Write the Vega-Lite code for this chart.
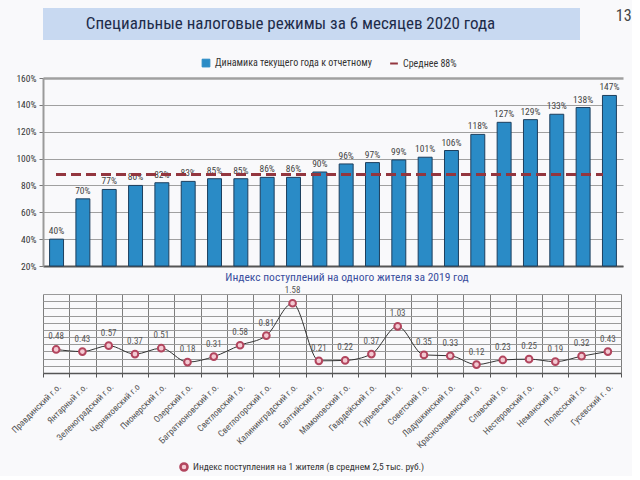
{
  "$schema": "https://vega.github.io/schema/vega-lite/v6.json",
  "background": "#f9f9fb",
  "padding": {"left": 10, "top": 8, "right": 0, "bottom": 0},
  "config": {
    "font": "Liberation Sans Narrow, Roboto Condensed, DejaVu Sans Condensed, sans-serif",
    "view": {"stroke": null}
  },
  "datasets": {
    "d": [
      {"m": "Правдинский г.о.", "dyn": 0.40, "idx": 0.48},
      {"m": "Янтарный г.о.", "dyn": 0.70, "idx": 0.43},
      {"m": "Зеленоградский г.о.", "dyn": 0.77, "idx": 0.57},
      {"m": "Черняховский г.о", "dyn": 0.80, "idx": 0.37},
      {"m": "Пионерский г.о.", "dyn": 0.82, "idx": 0.51},
      {"m": "Озерский г.о.", "dyn": 0.83, "idx": 0.18},
      {"m": "Багратионовский г.о.", "dyn": 0.85, "idx": 0.31},
      {"m": "Светловский г.о.", "dyn": 0.85, "idx": 0.58},
      {"m": "Светлогорский г.о.", "dyn": 0.86, "idx": 0.81},
      {"m": "Калининградский г.о.", "dyn": 0.86, "idx": 1.58},
      {"m": "Балтийский г.о.", "dyn": 0.90, "idx": 0.21},
      {"m": "Мамоновский г.о.", "dyn": 0.96, "idx": 0.22},
      {"m": "Гвардейский г.о.", "dyn": 0.97, "idx": 0.37},
      {"m": "Гурьевский г.о.", "dyn": 0.99, "idx": 1.03},
      {"m": "Советский г.о.", "dyn": 1.01, "idx": 0.35},
      {"m": "Ладушкинский г.о.", "dyn": 1.06, "idx": 0.33},
      {"m": "Краснознаменский г.о.", "dyn": 1.18, "idx": 0.12},
      {"m": "Славский г.о.", "dyn": 1.27, "idx": 0.23},
      {"m": "Нестеровский г.о.", "dyn": 1.29, "idx": 0.25},
      {"m": "Неманский г.о.", "dyn": 1.33, "idx": 0.19},
      {"m": "Полесский г.о.", "dyn": 1.38, "idx": 0.32},
      {"m": "Гусевский г. о.", "dyn": 1.47, "idx": 0.43}
    ]
  },
  "spacing": 18,
  "resolve": {"scale": {"color": "independent", "fill": "independent"}, "legend": {"color": "independent", "fill": "independent"}},
  "vconcat": [
    {
      "width": 537,
      "height": 32,
      "view": {"fill": "#c8d9f1", "stroke": null},
      "data": {"values": [{"t": "Специальные налоговые режимы за 6 месяцев 2020 года"}]},
      "mark": {"type": "text", "fontSize": 17, "dx": -21, "color": "#1e2c4a", "font": "Roboto Condensed, Liberation Sans Narrow, sans-serif"},
      "encoding": {"text": {"field": "t"}},
      "title": {"text": "13", "orient": "right", "angle": 0, "anchor": "start", "align": "left", "baseline": "top", "offset": 20, "frame": "group", "fontSize": 16, "fontWeight": "normal", "color": "#444", "font": "Roboto Condensed, Liberation Sans Narrow, sans-serif"}
    },
    {
      "spacing": 0,
      "resolve": {"scale": {"x": "independent", "y": "independent", "color": "independent", "fill": "independent"}, "legend": {"color": "independent", "fill": "independent"}},
      "vconcat": [
        {
          "width": 580,
          "height": 188,
          "data": {"name": "d"},
          "encoding": {
            "x": {"field": "m", "type": "nominal", "sort": null,
              "scale": {"paddingInner": 0.47, "paddingOuter": 0.25},
              "axis": {"labels": false, "ticks": false, "title": null, "domainColor": "#555", "domainWidth": 2}},
            "y": {"field": "dyn", "type": "quantitative",
              "scale": {"domain": [0.2, 1.6], "zero": false, "nice": false},
              "axis": {"title": null, "values": [0.2, 0.4, 0.6, 0.8, 1.0, 1.2, 1.4, 1.6], "format": ".0%", "labelOverlap": false, "labelFontSize": 9.5, "labelColor": "#333", "grid": true, "gridColor": "#a0a0a0", "gridWidth": {"condition": {"test": "datum.value >= 1.59", "value": 2.5}, "value": 1}, "domainColor": "#9a9a9a", "domainWidth": 2, "tickColor": "#777", "tickSize": 4, "labelPadding": 3}}
          },
          "layer": [
            {
              "mark": {"type": "bar", "stroke": "#1d3f5e", "strokeWidth": 1},
              "encoding": {
                "y2": {"datum": 0.2},
                "color": {"datum": "Динамика текущего года к отчетному",
                  "scale": {"domain": ["Динамика текущего года к отчетному", "Среднее 88%"], "range": ["#2a8bc6", "#93363f"]},
                  "legend": {"orient": "none", "legendX": 158, "legendY": -20, "direction": "horizontal", "title": null, "labelFontSize": 10, "labelColor": "#333", "symbolSize": 60, "columnPadding": 14,
                    "encode": {"symbols": {"update": {
                      "shape": {"signal": "datum.value === 'Среднее 88%' ? 'stroke' : 'square'"},
                      "fill": {"signal": "datum.value === 'Среднее 88%' ? 'transparent' : '#2a8bc6'"},
                      "stroke": {"signal": "datum.value === 'Среднее 88%' ? '#5a3a3e' : '#1d3f5e'"},
                      "strokeWidth": {"signal": "datum.value === 'Среднее 88%' ? 2 : 1"}
                    }}}}}
              }
            },
            {
              "mark": {"type": "text", "dy": -3, "baseline": "bottom", "fontSize": 9.5, "color": "#444"},
              "encoding": {
                "text": {"field": "dyn", "type": "quantitative", "format": ".0%"}
              }
            },
            {
              "mark": {"type": "rule", "strokeDash": [9, 6], "strokeWidth": 2.5},
              "encoding": {
                "y": {"datum": 0.88},
                "y2": null,
                "x": {"datum": "Правдинский г.о.", "bandPosition": 0.5},
                "x2": {"datum": "Гусевский г. о.", "bandPosition": 0},
                "color": {"datum": "Среднее 88%",
                  "legend": {"orient": "none", "legendX": 158, "legendY": -20, "direction": "horizontal", "title": null, "labelFontSize": 10, "labelColor": "#333", "symbolSize": 60, "columnPadding": 14,
                    "encode": {"symbols": {"update": {
                      "shape": {"signal": "datum.value === 'Среднее 88%' ? 'stroke' : 'square'"},
                      "fill": {"signal": "datum.value === 'Среднее 88%' ? 'transparent' : '#2a8bc6'"},
                      "stroke": {"signal": "datum.value === 'Среднее 88%' ? '#5a3a3e' : '#1d3f5e'"},
                      "strokeWidth": {"signal": "datum.value === 'Среднее 88%' ? 2 : 1"}
                    }}}}}
              }
            }
          ]
        },
        {
          "width": 578,
          "height": 79,
          "data": {"name": "d"},
          "title": {"text": "Индекс поступлений на одного жителя за 2019 год", "fontSize": 11.5, "fontWeight": "normal", "color": "#3a4e9e", "offset": 3, "dx": 15, "font": "Roboto Condensed, Liberation Sans Narrow, sans-serif"},
          "encoding": {
            "x": {"field": "m", "type": "nominal", "sort": null,
              "scale": {"paddingInner": 0, "paddingOuter": 0},
              "axis": {"title": null, "labelAngle": -45, "labelFontSize": 9, "labelColor": "#555", "grid": true, "gridColor": "#7d7d7d", "tickBand": "extent", "tickColor": "#555", "tickSize": 4, "domainColor": "#555", "domainWidth": 1.5, "labelPadding": 5}},
            "y": {"field": "idx", "type": "quantitative",
              "scale": {"domain": [-0.08, 1.8], "nice": false, "zero": false},
              "axis": {"title": null, "labels": false, "ticks": false, "domain": false, "grid": true, "gridColor": "#9a9a9a", "values": [-0.08, 0.091, 0.262, 0.433, 0.604, 0.775, 0.945, 1.116, 1.287, 1.458, 1.629, 1.8]}}
          },
          "layer": [
            {"mark": {"type": "line", "color": "#333", "strokeWidth": 1, "interpolate": "monotone"}},
            {
              "mark": {"type": "point", "filled": true, "size": 45, "stroke": "#b2455e", "strokeWidth": 2, "opacity": 1},
              "encoding": {
                "fill": {"datum": "Индекс поступления  на 1 жителя (в среднем  2,5 тыс. руб.)",
                  "scale": {"range": ["#f3c9d2"]},
                  "legend": {"orient": "none", "legendX": 136, "legendY": 168, "title": null, "labelFontSize": 9.5, "labelLimit": 400, "labelColor": "#333", "symbolType": "circle", "symbolStrokeColor": "#b2455e", "symbolStrokeWidth": 2.5, "symbolSize": 50}}
              }
            },
            {
              "mark": {"type": "text", "dy": -13, "fontSize": 9, "color": "#555"},
              "encoding": {"text": {"field": "idx", "type": "quantitative", "format": ".2f"}}
            }
          ]
        }
      ]
    }
  ]
}
